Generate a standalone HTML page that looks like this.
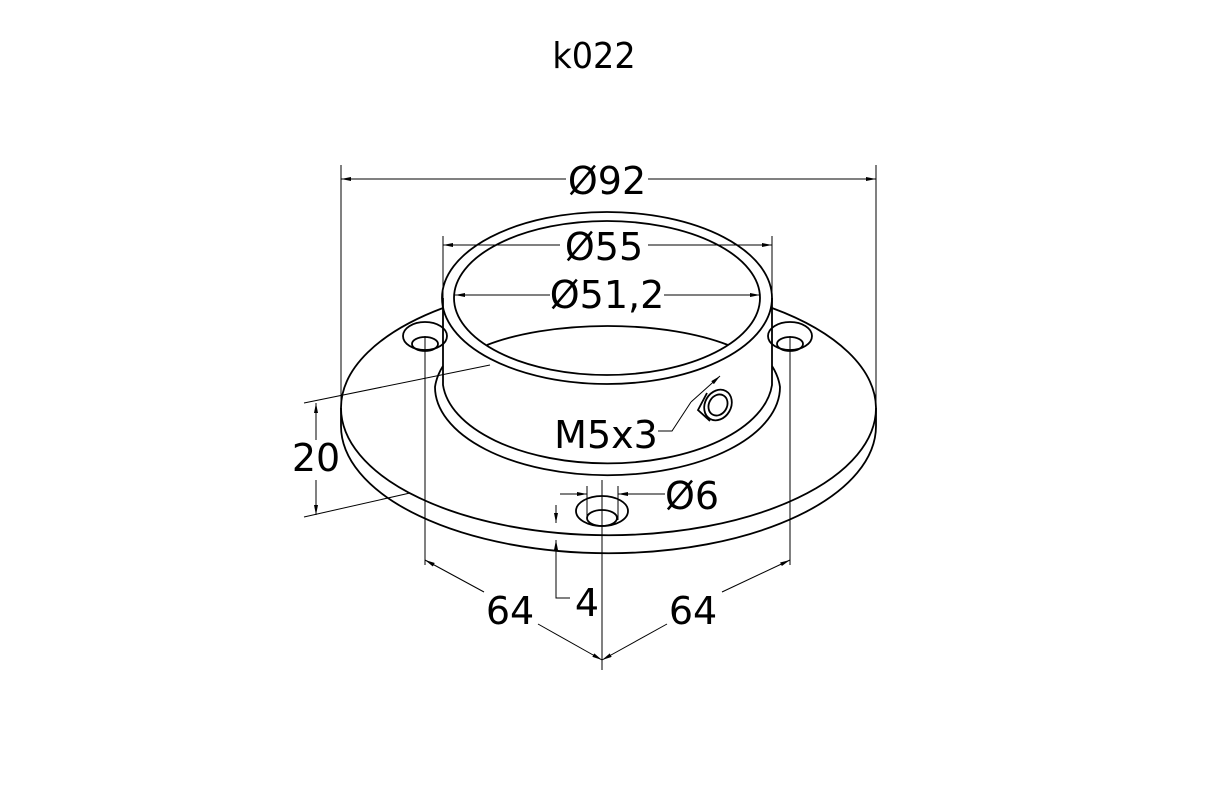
<!DOCTYPE html>
<html><head><style>
html,body{margin:0;padding:0;background:#fff;}
svg{display:block;}
text{font-family:"DejaVu Sans","Liberation Sans",sans-serif;fill:#000;}
</style></head><body>
<svg width="1205" height="800" viewBox="0 0 1205 800" xmlns="http://www.w3.org/2000/svg">
<defs>
<marker id="a" viewBox="0 0 10 4" refX="10" refY="2" markerWidth="10" markerHeight="4" orient="auto-start-reverse" markerUnits="userSpaceOnUse"><path d="M0,0 L10,2 L0,4z" fill="#000"/></marker>
</defs>
<g font-size="36" transform="translate(0,0)">
<text x="594" y="68" text-anchor="middle" transform="translate(594,0) scale(0.93,1) translate(-594,0)">k022</text>
</g>
<g fill="none" stroke="#000" stroke-width="1.8">
<path d="M341,408 A267,127 0 0 1 443,308"/>
<path d="M772,308 A267,127 0 0 1 876,408"/>
<path d="M341,408 A267,127 0 0 0 876,408"/>
<path d="M341,426 A267,127 0 0 0 876,426"/>
<line x1="341" y1="408" x2="341" y2="426"/>
<line x1="876" y1="408" x2="876" y2="426"/>
<path d="M443,366 A172,88 0 0 0 435,387 A172,88 0 0 0 780,387 A172,88 0 0 0 772,366"/>
<path d="M443,298 L443,385 A165,85 0 0 0 772,385 L772,298"/>
<ellipse cx="607" cy="298" rx="165" ry="86"/>
<ellipse cx="607" cy="298" rx="153" ry="77"/>
<path d="M487,345 A165,60 0 0 1 728,345"/>
<ellipse cx="425" cy="336" rx="22" ry="14"/><ellipse cx="425" cy="344" rx="13" ry="7"/>
<ellipse cx="790" cy="336" rx="22" ry="14"/><ellipse cx="790" cy="344" rx="13" ry="7"/>
<ellipse cx="602" cy="511" rx="26" ry="15"/><ellipse cx="602" cy="518" rx="15" ry="8"/>
<ellipse cx="718" cy="405" rx="13" ry="16" transform="rotate(30 718 405)"/>
<ellipse cx="718" cy="405" rx="9" ry="11" transform="rotate(30 718 405)"/>
<path d="M707,393 L698,410 L710,421"/>
</g>
<g fill="none" stroke="#000" stroke-width="1">
<line x1="341" y1="165" x2="341" y2="408"/>
<line x1="876" y1="165" x2="876" y2="408"/>
<line x1="443" y1="236" x2="443" y2="298"/>
<line x1="772" y1="236" x2="772" y2="298"/>
<line x1="425" y1="336" x2="425" y2="565"/>
<line x1="790" y1="336" x2="790" y2="565"/>
<line x1="602" y1="480" x2="602" y2="670"/>
<line x1="587" y1="486" x2="587" y2="520"/>
<line x1="618" y1="486" x2="618" y2="520"/>
<line x1="304" y1="403" x2="490" y2="365"/>
<line x1="304" y1="517" x2="410" y2="493"/>
<line x1="341" y1="179" x2="566" y2="179" marker-start="url(#a)"/>
<line x1="648" y1="179" x2="876" y2="179" marker-end="url(#a)"/>
<line x1="443" y1="245" x2="560" y2="245" marker-start="url(#a)"/>
<line x1="648" y1="245" x2="772" y2="245" marker-end="url(#a)"/>
<line x1="455" y1="295" x2="550" y2="295" marker-start="url(#a)"/>
<line x1="664" y1="295" x2="760" y2="295" marker-end="url(#a)"/>
<line x1="316" y1="403" x2="316" y2="440" marker-start="url(#a)"/>
<line x1="316" y1="480" x2="316" y2="515" marker-end="url(#a)"/>
<line x1="560" y1="494" x2="587" y2="494" marker-end="url(#a)"/>
<line x1="665" y1="494" x2="618" y2="494" marker-end="url(#a)"/>
<line x1="556" y1="505" x2="556" y2="523" marker-end="url(#a)"/>
<line x1="556" y1="560" x2="556" y2="540" marker-end="url(#a)"/>
<polyline points="556,540 556,598 570,598"/>
<line x1="425" y1="560" x2="484" y2="592" marker-start="url(#a)"/>
<line x1="538" y1="624" x2="602" y2="660" marker-end="url(#a)"/>
<line x1="790" y1="560" x2="722" y2="592" marker-start="url(#a)"/>
<line x1="667" y1="624" x2="602" y2="660" marker-end="url(#a)"/>
<polyline points="658,431 672,431 691,402"/>
<line x1="691" y1="402" x2="720" y2="376" marker-end="url(#a)"/>
</g>
<g font-size="38">
<text x="607" y="194">
</text>
<text x="607" y="194" text-anchor="middle">Ø92</text>
<text x="604" y="260" text-anchor="middle">Ø55</text>
<text x="607" y="308" text-anchor="middle">Ø51,2</text>
<text x="606" y="448" text-anchor="middle">M5x3</text>
<text x="692" y="509" text-anchor="middle">Ø6</text>
<text x="316" y="471" text-anchor="middle">20</text>
<text x="510" y="624" text-anchor="middle">64</text>
<text x="693" y="624" text-anchor="middle">64</text>
<text x="587" y="616" text-anchor="middle">4</text>
</g>
</svg>
</body></html>
